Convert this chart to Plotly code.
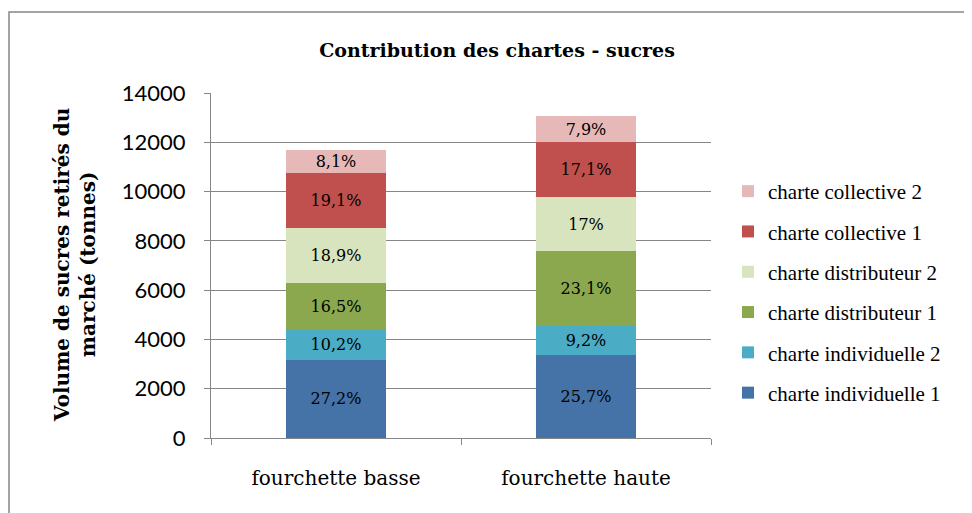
import plotly.graph_objects as go

categories = ["fourchette basse", "fourchette haute"]
series_names = ["charte individuelle 1", "charte individuelle 2", "charte distributeur 1",
                "charte distributeur 2", "charte collective 1", "charte collective 2"]
ind1 = [3180, 3355]
ind2 = [1195, 1200]
dist1 = [1930, 3015]
dist2 = [2210, 2220]
coll1 = [2235, 2230]
coll2 = [950, 1030]
pct_ind1 = ["27,2%", "25,7%"]
pct_ind2 = ["10,2%", "9,2%"]
pct_dist1 = ["16,5%", "23,1%"]
pct_dist2 = ["18,9%", "17%"]
pct_coll1 = ["19,1%", "17,1%"]
pct_coll2 = ["8,1%", "7,9%"]
colors = ["#4572A7", "#4BACC6", "#8BA84E", "#D7E4BD", "#C0504D", "#E6B9B8"]
y_ticks = [0, 2000, 4000, 6000, 8000, 10000, 12000, 14000]
y_tick_labels = ["0", "2000", "4000", "6000", "8000", "10000", "12000", "14000"]

values = [ind1, ind2, dist1, dist2, coll1, coll2]
pcts = [pct_ind1, pct_ind2, pct_dist1, pct_dist2, pct_coll1, pct_coll2]

SERIF = "DejaVu Serif"
SERIF2 = "Liberation Serif"
SANS = "Lato"

W, H = 964, 505
OFF = 8  # page body margin

fig = go.Figure()
n = len(series_names)
for i, (name, v, p, c) in enumerate(zip(series_names, values, pcts, colors)):
    fig.add_trace(go.Bar(
        x=categories, y=v, name=name, text=p,
        marker=dict(color=c, line=dict(width=0)),
        textposition="inside", insidetextanchor="middle", textangle=0,
        constraintext="none",
        textfont=dict(family=SERIF, size=16, color="#000000"),
        legendgroup=f"g{i}", legendrank=n - i, hoverinfo="skip",
    ))

# screen-pixel layout of the plot area
SX0, SX1, SY0, SY1 = 211, 711, 93, 438
L, T = SX0 - OFF, SY0 - OFF
R, B = W - (SX1 - OFF), H - (SY1 - OFF)
PW, PH = SX1 - SX0, SY1 - SY0

def px_x(x):
    return (x - SX0) / PW

def px_y(y):
    return (SY1 - y) / PH

fig.update_layout(
    width=W, height=H,
    margin=dict(l=L, r=R, t=T, b=B, autoexpand=False),
    barmode="stack", bargap=0.6,
    paper_bgcolor="white", plot_bgcolor="white",
    title=dict(text="<b>Contribution des chartes - sucres</b>",
               x=(497 - OFF) / W, xref="container", xanchor="center",
               y=1 - (50 - OFF) / H, yref="container", yanchor="middle",
               font=dict(family=SERIF, size=19, color="#000000")),
    xaxis=dict(showline=True, linecolor="#868686", linewidth=1,
               ticks="outside", tickson="boundaries", ticklen=6, tickcolor="#868686",
               ticklabelstandoff=22,
               tickfont=dict(family=SERIF, size=20, color="#000000"),
               showgrid=False),
    yaxis=dict(range=[0, 14000], tickvals=y_ticks, ticktext=y_tick_labels,
               showline=True, linecolor="#868686",
               linewidth=1, ticks="outside", ticklen=6, tickcolor="#868686",
               ticklabelstandoff=14,
               showgrid=True, gridcolor="#868686", gridwidth=1, zeroline=False,
               tickfont=dict(family=SANS, size=22, color="#000000")),
    legend=dict(x=px_x(728), xanchor="left", y=px_y(171), yanchor="top",
                traceorder="grouped", tracegroupgap=10,
                font=dict(family=SERIF2, size=21, color="#000000"),
                bgcolor="rgba(0,0,0,0)"),
    showlegend=True,
)

fig.add_annotation(text="<b>Volume de sucres retirés du<br>marché (tonnes)</b>",
                   xref="paper", yref="paper", x=px_x(75), y=px_y(265),
                   textangle=-90, showarrow=False, xanchor="center", yanchor="middle",
                   font=dict(family=SERIF, size=20, color="#000000"))

fig.add_shape(type="rect", xref="paper", yref="paper",
              x0=px_x(9), x1=px_x(1000), y0=px_y(540), y1=px_y(12),
              line=dict(color="#868686", width=1.5), layer="below")

fig.write_html("out.html")
